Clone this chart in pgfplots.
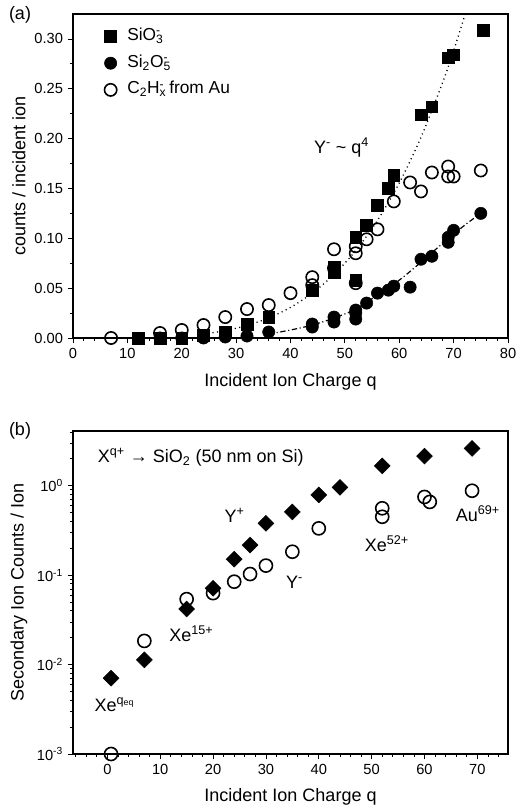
\documentclass[border=0pt]{standalone}
\usepackage{fontspec}
\setmainfont{Liberation Sans}
\usepackage{pgfplots}
\pgfplotsset{compat=1.18}
\pgfplotsset{
  common/.style={
    scale only axis,
    width=326.25pt,
    anchor=south west,
    clip=false,
    tick style={black, line width=0.6pt},
    major tick length=4pt,
    minor tick length=2.2pt,
    axis line style={-, line width=0.8pt},
    tick label style={font=\fontsize{11}{13}\selectfont},
    label style={font=\fontsize{13.5}{15}\selectfont},
    /pgf/number format/assume math mode=true,
  },
  mainax/.style={xtick pos=left, ytick pos=left, tick align=outside},
  panelA/.style={common, at={(54.75pt,353.25pt)}, height=243pt,
    xmin=0, xmax=80, ymin=0, ymax=0.325,
    xtick={0,10,20,30,40,50,60,70,80}, minor xtick={2,4,...,78},
    ytick={0,0.05,0.10,0.15,0.20,0.25,0.30},
    minor ytick={0.025,0.075,0.125,0.175,0.225,0.275},
    yticklabel style={/pgf/number format/.cd,fixed,fixed zerofill,precision=2},
  },
  panelB/.style={common, at={(54.75pt,41.25pt)}, height=242.25pt,
    xmin=-6.5, xmax=75.8, ymin=1e-3, ymax=4.1,
    xtick={0,10,20,30,40,50,60,70}, minor xtick={-6,-4,...,74},
    ytick={0.001,0.01,0.1,1},
    yticklabels={10\textsuperscript{-3},10\textsuperscript{-2},10\textsuperscript{-1},10\textsuperscript{0}},
    minor ytick={0.002,0.003,0.004,0.005,0.006,0.007,0.008,0.009,
                 0.02,0.03,0.04,0.05,0.06,0.07,0.08,0.09,
                 0.2,0.3,0.4,0.5,0.6,0.7,0.8,0.9,2,3,4},
  },
  sq/.style={only marks, mark=square*, mark size=4.4pt, mark options={fill=black, draw=black}},
  fc/.style={only marks, mark=*, mark size=4.6pt, mark options={fill=black, draw=black}},
  oc/.style={only marks, mark=o, mark size=4.6pt, mark options={fill=white, draw=black, line width=1.2pt}},
}
\begin{document}
\begin{tikzpicture}[x=1pt,y=1pt]
\useasboundingbox (0,0) rectangle (390.75,606.75);
% ---------- panel (a)
\begin{axis}[panelA, mainax,
  xlabel={Incident Ion Charge q}, ylabel={counts / incident ion},
  xlabel style={at={(axis description cs:0.5,-0.136)},anchor=center},
  ylabel style={at={(axis description cs:-0.124,0.5)},anchor=center},
  legend style={at={(axis cs:5.4,0.314)}, anchor=north west, draw=none, fill=none,
    font=\fontsize{13}{15}\selectfont, row sep=3pt, inner sep=0pt,
    nodes={text height=9.5pt, text depth=3.5pt}},
  legend cell align=left,
  legend image code/.code={\path[draw=none] (0pt,0pt) -- (16.5pt,0pt);
    \draw[#1, only marks] plot coordinates {(6pt,0pt)};},
]
\addplot[sq] coordinates {
(12,0.000) (16,0.000) (20,0.000) (24,0.003) (28,0.006) (32,0.014) (36,0.021)
(44,0.048) (48,0.066) (48,0.071) (52,0.058) (52,0.101) (54,0.113) (56,0.133)
(58,0.150) (59,0.163) (64,0.224) (66,0.232) (69,0.281) (70,0.284) (75.5,0.309)};
\addlegendentry{SiO\rlap{\textsubscript{3}}\textsuperscript{-}}
\addplot[fc] coordinates {
(16,0.000) (20,0.000) (24,0.000) (28,0.001) (32,0.002) (36,0.006) (44,0.011)
(44,0.014) (48,0.016) (48,0.021) (52,0.019) (52,0.025) (52,0.028) (54,0.035)
(56,0.045) (58,0.048) (59,0.052) (62,0.051) (64,0.079) (66,0.082) (69,0.096)
(69,0.101) (70,0.108) (75,0.125)};
\addlegendentry{Si\textsubscript{2}O\rlap{\textsubscript{5}}\textsuperscript{-}}
\addplot[oc] coordinates {
(7,0.000) (16,0.005) (20,0.008) (24,0.013) (28,0.021) (32,0.029) (36,0.033)
(40,0.045) (44,0.053) (44,0.061) (48,0.070) (48,0.089) (52,0.055) (52,0.085)
(52,0.092) (54,0.099) (56,0.109) (59,0.137) (62,0.156) (64,0.147) (66,0.166)
(69,0.172) (69,0.162) (70,0.162) (75,0.168)};
\addlegendentry{C\textsubscript{2}H\rlap{\textsubscript{x}}\textsuperscript{-} from Au}
\addplot[forget plot, black, line width=1pt, dash pattern=on 0.8pt off 2.6pt, smooth] coordinates {
(24,0.00398) (28,0.00738) (32,0.01258) (36,0.02016) (40,0.03072) (44,0.04498)
(48,0.0637) (52,0.08774) (56,0.1180) (60,0.1555) (64,0.2013) (68,0.2566)
(70,0.2881) (72.1,0.3243)};
\addplot[forget plot, black, line width=0.9pt, dash pattern=on 4pt off 2pt on 0.8pt off 2pt, smooth] coordinates {
(36,0.004) (40,0.008) (44,0.013) (48,0.020) (52,0.029) (56,0.043) (60,0.058)
(64,0.076) (68,0.095) (72,0.113) (75,0.125)};
\node[font=\fontsize{13.5}{15}\selectfont] at (axis cs:49.4,0.191)
  {Y\textsuperscript{-} \textasciitilde{} q\textsuperscript{4}};
\end{axis}
% ---------- panel (b)
\begin{axis}[ymode=log, panelB, mainax,
  xlabel={Incident Ion Charge q}, ylabel={Secondary Ion Counts / Ion},
  xlabel style={at={(axis description cs:0.5,-0.132)},anchor=center},
  ylabel style={at={(axis description cs:-0.124,0.5)},anchor=center},
]
\addplot[only marks, mark=o, mark size=4.9pt, mark options={fill=white, draw=black, line width=1.2pt}] coordinates {
(0.7,0.001) (7,0.0184) (15,0.054) (20,0.063) (24,0.0846) (27,0.103) (30,0.128)
(35,0.183) (40,0.334) (52,0.45) (52,0.56) (60,0.75) (61,0.66) (69,0.88)};
\addplot[only marks, mark=square*, mark size=4.2pt, mark options={rotate=45, fill=black, draw=black}] coordinates {
(0.7,0.00705) (7,0.0113) (15,0.0419) (20,0.0714) (24,0.151) (27,0.217) (30,0.38)
(35,0.51) (40,0.79) (44,0.96) (52,1.67) (60,2.15) (69,2.62)};
\node[anchor=west, font=\fontsize{13.5}{15}\selectfont] at (axis cs:-2.7,2.1)
  {X\textsuperscript{q+} → SiO\textsubscript{2} (50 nm on Si)};
\node[font=\fontsize{13.5}{15}\selectfont] at (axis cs:24.1,0.47) {Y\textsuperscript{+}};
\node[font=\fontsize{13.5}{15}\selectfont] at (axis cs:35.4,0.084) {Y\textsuperscript{-}};
\node[font=\fontsize{13.5}{15}\selectfont] at (axis cs:52.9,0.223) {Xe\textsuperscript{52+}};
\node[font=\fontsize{13.5}{15}\selectfont] at (axis cs:70.1,0.492) {Au\textsuperscript{69+}};
\node[font=\fontsize{13.5}{15}\selectfont] at (axis cs:15.9,0.0224) {Xe\textsuperscript{15+}};
\node[font=\fontsize{13.5}{15}\selectfont] at (axis cs:1.4,0.00355) {Xe\textsuperscript{q\textsubscript{eq}}};
\end{axis}
\node[font=\fontsize{13.5}{15}\selectfont] at (15,595.5) {(a)};
\node[font=\fontsize{13.5}{15}\selectfont] at (15,283.5) {(b)};
\end{tikzpicture}
\end{document}
